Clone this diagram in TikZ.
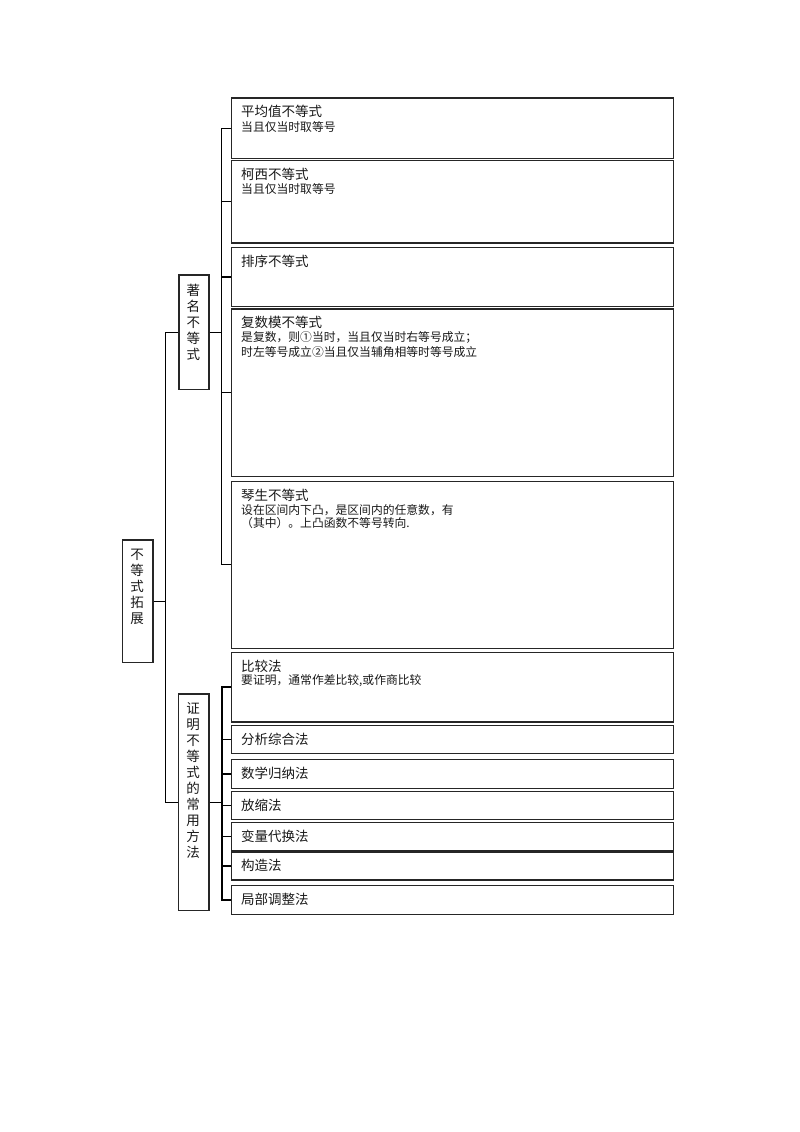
\documentclass[tikz,border=0pt]{standalone}
\usepackage{fontspec}
\newfontfamily\cjk{Noto Sans CJK SC}
\tikzset{
 box/.style={draw=black!85, line width=1.2pt, inner sep=0pt, anchor=north west, minimum width=441.5pt},
 vbox/.style={draw=black!85, line width=1.2pt, inner sep=0pt, anchor=north west},
 ttl/.style={anchor=west, inner sep=0pt, font=\cjk\fontsize{13.5}{16}\selectfont, text=black!90},
 subt/.style={anchor=west, inner sep=0pt, font=\cjk\fontsize{11.8}{14}\selectfont, text=black!90},
 vtxt/.style={align=center, inner sep=0pt, font=\cjk\fontsize{13.5}{16}\selectfont, text=black!90},
 conn/.style={draw=black, line width=1.1pt},
}
\begin{document}
\begin{tikzpicture}[x=1pt,y=-1pt]
\useasboundingbox[fill=white] (0,0) rectangle (800,1132);
% root and group boxes
\node[vbox, minimum width=30.8pt, minimum height=122.4pt] (root) at (121.5,539.3) {};
\node[vtxt] (roott) at (137,586.7) {不\\等\\式\\拓\\展};
\node[vbox, minimum width=30pt, minimum height=114.7pt] (g1) at (178.3,274.3) {};
\node[vtxt] (g1t) at (193.3,322.5) {著\\名\\不\\等\\式};
\node[vbox, minimum width=30.8pt, minimum height=216.7pt] (g2) at (177.5,693.3) {};
\node[vtxt] (g2t) at (193,780.8) {证\\明\\不\\等\\式\\的\\常\\用\\方\\法};
% group 1 boxes
\node[box, minimum height=60.7pt] (b1) at (231,97.3) {};
\node[box, minimum height=82.3pt] (b2) at (231,160) {};
\node[box, minimum height=59.3pt] (b3) at (231,246.7) {};
\node[box, minimum height=167.4pt] (b4) at (231,308.3) {};
\node[box, minimum height=167pt] (b5) at (231,480.7) {};
% group 2 boxes
\node[box, minimum height=69.8pt] (c1) at (231,651.5) {};
\node[box, minimum height=28.5pt] (c2) at (231,724.7) {};
\node[box, minimum height=28.3pt] (c3) at (231,759.2) {};
\node[box, minimum height=28.1pt] (c4) at (231,790.7) {};
\node[box, minimum height=28.3pt] (c5) at (231,822) {};
\node[box, minimum height=27.8pt] (c6) at (231,851.5) {};
\node[box, minimum height=28.7pt] (c7) at (231,885) {};
% texts group 1
\node[ttl] (b1t) at ([shift={(10,14.5)}]b1.north west) {平均值不等式};
\node[subt] (b1s) at ([shift={(10,29.3)}]b1.north west) {当且仅当时取等号};
\node[ttl] (b2t) at ([shift={(10,14.5)}]b2.north west) {柯西不等式};
\node[subt] (b2s) at ([shift={(10,29.3)}]b2.north west) {当且仅当时取等号};
\node[ttl] (b3t) at ([shift={(10,14.8)}]b3.north west) {排序不等式};
\node[ttl] (b4t) at ([shift={(10,14.5)}]b4.north west) {复数模不等式};
\node[subt] (b4s) at ([shift={(10,29.5)}]b4.north west) {是复数，则①当时，当且仅当时右等号成立；};
\node[subt] (b4u) at ([shift={(10,44)}]b4.north west) {时左等号成立②当且仅当辅角相等时等号成立};
\node[ttl] (b5t) at ([shift={(10,14.3)}]b5.north west) {琴生不等式};
\node[subt] (b5s) at ([shift={(10,29.5)}]b5.north west) {设在区间内下凸，是区间内的任意数，有};
\node[subt] (b5u) at ([shift={(10,42.8)}]b5.north west) {（其中）。上凸函数不等号转向.};
% texts group 2
\node[ttl] (c1t) at ([shift={(10,14.5)}]c1.north west) {比较法};
\node[subt] (c1s) at ([shift={(10,29.3)}]c1.north west) {要证明，通常作差比较,或作商比较};
\node[ttl] (c2t) at ([shift={(10,14.8)}]c2.north west) {分析综合法};
\node[ttl] (c3t) at ([shift={(10,14.5)}]c3.north west) {数学归纳法};
\node[ttl] (c4t) at ([shift={(10,14.5)}]c4.north west) {放缩法};
\node[ttl] (c5t) at ([shift={(10,14.5)}]c5.north west) {变量代换法};
\node[ttl] (c6t) at ([shift={(10,14.3)}]c6.north west) {构造法};
\node[ttl] (c7t) at ([shift={(10,14.5)}]c7.north west) {局部调整法};
% connectors
\coordinate (rbus) at ([xshift=11.7pt]root.east);
\coordinate (g1bus) at ([xshift=11.7pt]g1.east);
\coordinate (g2bus) at ([xshift=12.5pt]g2.east);
\draw[conn] (root.east) -- (rbus) |- (g1.west);
\draw[conn] (rbus) |- (g2.west);
\draw[conn] (g1.east) -- (g1bus);
\foreach \b in {b1,b2,b3,b4,b5} \draw[conn] (g1bus) |- (\b.west);
\draw[conn] (g2.east) -- (g2bus);
\foreach \b in {c1,c2,c3,c4,c5,c6,c7} \draw[conn] (g2bus) |- (\b.west);
\end{tikzpicture}
\end{document}
